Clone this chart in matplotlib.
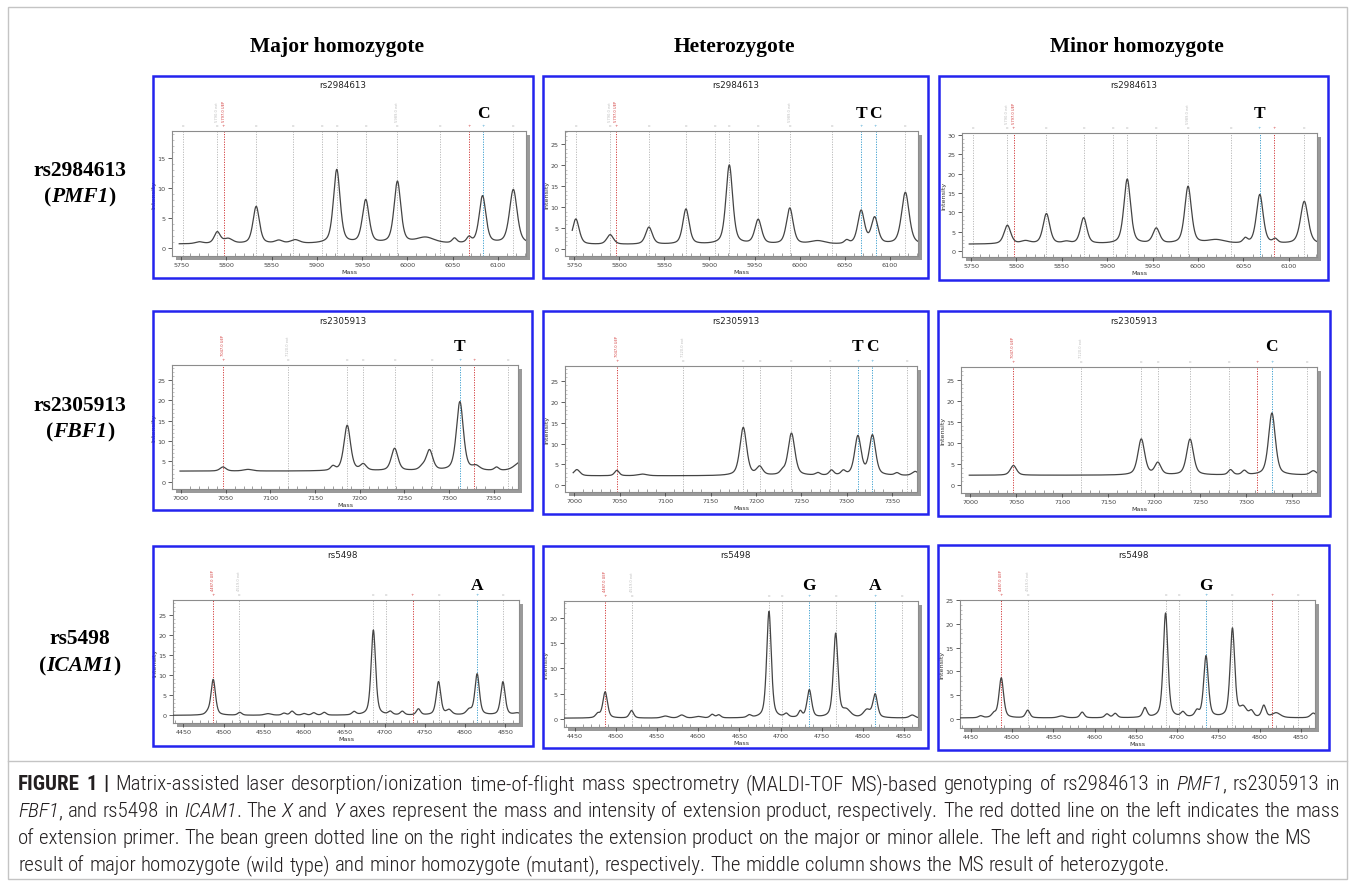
import re
import numpy as np
import matplotlib
matplotlib.use('Agg')
import matplotlib.pyplot as plt
from matplotlib.patches import Rectangle
from matplotlib.lines import Line2D
from matplotlib import font_manager

W, H = 1355, 887

# ---------------- data ----------------
columns = ['Major homozygote', 'Heterozygote', 'Minor homozygote']
snps = ['rs2984613', 'rs2305913', 'rs5498']
genes = ['PMF1', 'FBF1', 'ICAM1']

row_xlim = [(5748, 6131), (6999, 7377), (4437, 4867)]
row_xticks = [[5750, 5800, 5850, 5900, 5950, 6000, 6050, 6100],
              [7000, 7050, 7100, 7150, 7200, 7250, 7300, 7350],
              [4450, 4500, 4550, 4600, 4650, 4700, 4750, 4800, 4850]]
ylims = [[(-1.3, 19.5), (-1.6, 28.2), (-1.5, 30.5)],
         [(-1.8, 28.7), (-1.7, 28.7), (-1.8, 28.0)],
         [(-1.9, 28.7), (-1.65, 23.4), (-1.9, 25.0)]]
yticks = [[[0, 5, 10, 15], [0, 5, 10, 15, 20, 25], [0, 5, 10, 15, 20, 25, 30]],
          [[0, 5, 10, 15, 20, 25], [0, 5, 10, 15, 20, 25], [0, 5, 10, 15, 20, 25]],
          [[0, 5, 10, 15, 20, 25], [0, 5, 10, 15, 20], [0, 5, 10, 15, 20, 25]]]

primer_mass = [5797, 7047, 4487]
gray_lines = [[5752, 5790, 5833, 5874, 5906, 5922, 5954, 5989, 6036, 6117],
              [7120, 7186, 7204, 7239, 7281, 7366],
              [4519, 4686, 4702, 4767, 4847]]
allele_mass = [(6068, 6084), (7312, 7328), (4735, 4815)]
allele_names = [('T', 'C'), ('T', 'C'), ('G', 'A')]
called = [[(1,), (0, 1), (0,)],
          [(0,), (0, 1), (1,)],
          [(1,), (0, 1), (0,)]]
tall_labels = [[(5790, 'gray'), (5797, 'red'), (5989, 'gray')],
               [(7047, 'red'), (7120, 'gray')],
               [(4487, 'red'), (4519, 'gray')]]

# baseline level and peaks (mass, height above baseline, half width)
base = [[0.7, 1.1, 1.8], [2.6, 2.2, 2.4], [0.0, 0.1, 0.2]]
peaks = [
    [[(5770, 0.3, 5), (5790, 1.9, 4), (5802, 0.8, 6), (5833, 6.2, 4.2), (5858, 0.5, 5), (5876, 0.6, 6),
      (5922, 12.3, 4.4), (5954, 7.2, 4.4), (5989, 10.3, 4.4), (6020, 1.0, 12), (6052, 0.8, 3),
      (6068, 0.9, 3), (6083, 7.9, 4.4), (6117, 9.0, 5)],
     [(5752, 6.1, 4.4), (5790, 2.3, 4.4), (5833, 4.1, 4.4), (5874, 8.4, 4.2), (5922, 18.9, 4.4),
      (5954, 5.8, 4.4), (5989, 8.6, 4.4), (6020, 0.8, 10), (6052, 0.8, 3), (6068, 7.9, 4.4),
      (6083, 6.2, 4.4), (6117, 12.4, 5)],
     [(5790, 4.8, 4.4), (5810, 0.7, 6), (5833, 7.8, 4.4), (5855, 0.5, 5), (5874, 6.7, 4.2),
      (5922, 16.7, 4.4), (5954, 3.9, 4.4), (5989, 14.8, 4.4), (6020, 1.0, 12), (6052, 1.2, 3),
      (6068, 12.7, 4.4), (6085, 1.0, 3), (6117, 11.0, 5)]],
    [[(7047, 1.0, 4), (7075, 0.4, 6), (7170, 1.0, 3), (7186, 11.2, 4.4), (7204, 1.5, 4),
      (7239, 5.5, 4.4), (7270, 0.8, 4), (7278, 5.0, 4.4), (7312, 17.0, 4.6), (7330, 1.0, 5),
      (7353, 0.8, 3), (7380, 2.2, 8)],
     [(7003, 1.5, 4), (7047, 1.3, 3), (7075, 0.4, 6), (7186, 11.6, 4.4), (7204, 2.0, 4),
      (7229, 0.8, 3), (7239, 10.2, 4.4), (7268, 0.6, 3), (7283, 1.2, 3), (7296, 1.0, 3),
      (7312, 9.4, 4.2), (7328, 9.6, 4.2), (7355, 0.6, 3), (7375, 1.0, 4)],
     [(7047, 2.3, 4), (7186, 8.5, 4.4), (7204, 2.8, 4), (7239, 8.5, 4.4), (7283, 1.2, 3),
      (7298, 1.0, 3), (7328, 14.7, 4.4), (7373, 1.0, 4)]],
    [[(4480, 0.5, 3), (4487, 8.9, 3.3), (4520, 0.7, 3), (4555, 0.4, 5), (4575, 0.5, 3),
      (4585, 1.0, 3), (4600, 0.4, 3), (4612, 0.6, 3), (4625, 0.7, 3), (4662, 0.8, 3),
      (4686, 21.2, 3.3), (4707, 0.8, 3), (4722, 0.9, 3), (4742, 1.5, 3), (4767, 8.3, 3.3),
      (4780, 1.2, 4), (4805, 1.2, 4), (4815, 10.2, 3.3), (4847, 8.3, 3.3), (4865, 0.5, 5)],
     [(4478, 0.8, 3), (4487, 5.2, 3.3), (4519, 1.5, 3), (4560, 0.4, 5), (4580, 0.6, 4),
      (4600, 0.3, 5), (4617, 0.7, 3), (4625, 0.6, 3), (4662, 0.5, 3), (4686, 21.2, 3.3),
      (4707, 0.7, 3), (4724, 1.2, 2.5), (4735, 5.5, 3.3), (4767, 16.7, 3.3), (4780, 1.4, 6),
      (4805, 1.5, 5), (4815, 4.6, 3.3), (4860, 0.6, 4)],
     [(4462, 0.4, 3), (4478, 0.8, 3), (4487, 8.4, 3.3), (4519, 1.6, 3), (4560, 0.4, 5),
      (4585, 1.2, 3), (4615, 0.8, 3), (4625, 0.9, 3), (4661, 2.0, 3), (4686, 22.0, 3.3),
      (4707, 1.0, 3), (4724, 1.2, 3), (4735, 12.9, 3.3), (4767, 18.7, 3.3), (4780, 2.0, 5),
      (4790, 1.2, 3), (4805, 2.5, 3), (4820, 1.0, 6), (4865, 1.0, 4)]],
]

# ---------------- layout (pixels) ----------------
panel_box = [[(153, 77, 533, 279), (543, 77, 928, 279), (939, 77, 1328, 281)],
             [(153, 312, 532, 511), (543, 312, 928, 515), (938, 312, 1330, 517)],
             [(153, 547, 533, 747), (543, 547, 928, 749), (938, 546, 1329, 751)]]
axes_box = [[(172, 132, 526, 257), (565, 132, 918, 257), (962, 134, 1317, 258)],
            [(172, 366, 518, 490), (565, 367, 917, 493), (961, 368, 1317, 494)],
            [(173, 601, 519, 724), (564, 602, 918, 728), (960, 601, 1315, 729)]]
title_y = [86, 321, 555]
letter_y = [114, 347, 586]
header_x = [337, 734, 1137]
label_y = [(171, 197), (406, 432), (639, 666)]

avail = {f.name for f in font_manager.fontManager.ttflist}
serif = 'Liberation Serif' if 'Liberation Serif' in avail else 'DejaVu Serif'
cap_family = next((f for f in ['Liberation Sans Narrow', 'Roboto Condensed', 'Liberation Sans']
                   if f in avail), 'DejaVu Sans')

fig = plt.figure(figsize=(W / 100, H / 100), dpi=100)
fig.patch.set_facecolor('white')
renderer = fig.canvas.get_renderer()


def fx(x):
    return x / W


def fy(y):
    return 1 - y / H


def spectrum(x, b, pk):
    y = np.full_like(x, b)
    for m, h, w in pk:
        d = (x - m) / w
        y += h * (0.5 * np.exp(-np.log(2) * d ** 2) + 0.5 / (1 + d ** 2))
    return y


def run_line(x0, y, parts, size, family, color='black', center=False, target=None,
             light=False):
    sp_a = fig.text(0, 0, 'a a', fontsize=size, family=family)
    sp_b = fig.text(0, 0, 'aa', fontsize=size, family=family)
    sp = sp_a.get_window_extent(renderer).width - sp_b.get_window_extent(renderer).width
    sp_a.remove()
    sp_b.remove()
    items = []
    for txt, weight, style in parts:
        if light and weight == 'normal':
            weight = 'light'
        for tok in re.split(r'( )', txt):
            if tok == '':
                continue
            if tok == ' ':
                items.append(None)
            else:
                t = fig.text(0, fy(y), tok, fontsize=size, family=family, weight=weight,
                             style=style, color=color, va='center', ha='left')
                items.append((t, t.get_window_extent(renderer).width))
    n_sp = sum(1 for it in items if it is None)
    natural = sum(it[1] for it in items if it is not None) + n_sp * sp
    gap = sp
    if target is not None and n_sp:
        gap = sp + (target - natural) / n_sp
    width = natural if target is None else target
    x = x0 - (width / 2 if center else 0)
    texts = []
    for it in items:
        if it is None:
            x += gap
        else:
            it[0].set_x(fx(x))
            x += it[1]
            texts.append(it[0])
    return texts, natural


# outer frame and caption divider
fig.add_artist(Rectangle((fx(8), fy(880)), (1347 - 8) / W, (880 - 8) / H, transform=fig.transFigure,
                         fill=False, edgecolor='#c4c4c4', lw=1.0))
fig.add_artist(Line2D([fx(8), fx(1347)], [fy(762), fy(762)], transform=fig.transFigure,
                      color='#c4c4c4', lw=1.0))

# column headers
for c in range(3):
    fig.text(fx(header_x[c]), fy(47), columns[c], fontsize=15.5, family=serif, weight='bold',
             ha='center', va='center')

# row labels
for r in range(3):
    fig.text(fx(80), fy(label_y[r][0]), snps[r], fontsize=15.5, family=serif, weight='bold',
             ha='center', va='center')
    run_line(80, label_y[r][1], [('(', 'bold', 'normal'), (genes[r], 'bold', 'italic'),
                                  (')', 'bold', 'normal')], 15.5, serif, center=True)

red = '#d23b3b'
blue = '#3b9fcf'
gray = '#b9b9b9'

for r in range(3):
    for c in range(3):
        l, t, rr, b = panel_box[r][c]
        fig.add_artist(Rectangle((fx(l), fy(b)), (rr - l) / W, (b - t) / H, transform=fig.transFigure,
                                 fill=False, edgecolor='#2424ee', lw=1.8))
        fig.text(fx((l + rr) / 2), fy(title_y[r]), snps[r], fontsize=6.3, family='DejaVu Sans',
                 ha='center', va='center', color='#222222')

        al, at, ar, ab = axes_box[r][c]
        fig.add_artist(Rectangle((fx(al + 4), fy(ab + 4)), (ar - al) / W, (ab - at) / H,
                                 transform=fig.transFigure, facecolor='#9a9a9a', edgecolor='none',
                                 zorder=-1))
        ax = fig.add_axes([fx(al), fy(ab), (ar - al) / W, (ab - at) / H])
        ax.set_facecolor('white')
        x = np.linspace(row_xlim[r][0], row_xlim[r][1], 3000)
        ax.plot(x, spectrum(x, base[r][c], peaks[r][c]), color='#444444', lw=0.9, zorder=3)
        ax.set_xlim(*row_xlim[r])
        ax.set_ylim(*ylims[r][c])
        ax.set_xticks(row_xticks[r])
        ax.set_yticks(yticks[r][c])
        ax.set_xticks(np.arange(row_xticks[r][0] - 10, row_xlim[r][1], 10), minor=True)
        ax.set_yticks(np.arange(0, ylims[r][c][1], 1), minor=True)
        ax.tick_params(axis='both', which='major', labelsize=4.6, length=3, width=0.6,
                       colors='#444444', pad=1.5)
        ax.tick_params(axis='x', which='minor', direction='in', length=2.5, width=0.5,
                       colors='#777777')
        ax.tick_params(axis='y', which='minor', direction='in', length=1.5, width=0.4,
                       colors='#999999')
        for s in ax.spines.values():
            s.set_color('#8c8c8c')
            s.set_linewidth(0.8)
        ax.set_xlabel('Mass', fontsize=4.6, labelpad=1, color='#333333')
        ax.set_ylabel('Intensity', fontsize=4.6, labelpad=1, color='#333333')

        # assignment lines
        lines = [(m, gray) for m in gray_lines[r]] + [(primer_mass[r], red)]
        for k in range(2):
            lines.append((allele_mass[r][k], blue if k in called[r][c] else red))
        for m, col in lines:
            ax.axvline(m, ymin=0, ymax=1.0, color=col, ls=(0, (1.2, 1.4)), lw=0.7, zorder=2)
            ax.text(m, 1.045, 'o' if col == gray else '+', transform=ax.get_xaxis_transform(),
                    fontsize=3, color=col, ha='center', va='center')
        for m, kind in tall_labels[r]:
            col = red if kind == 'red' else '#bdbdbd'
            ax.text(m, 1.08, '%.1f UEP' % m if kind == 'red' else '%.1f ext' % m,
                    transform=ax.get_xaxis_transform(), rotation=90, fontsize=2.6, color=col,
                    ha='center', va='bottom', family='DejaVu Sans')

        for k in called[r][c]:
            ax.annotate(allele_names[r][k], xy=(allele_mass[r][k], H - letter_y[r]),
                        xycoords=('data', 'figure pixels'), ha='center', va='center',
                        fontsize=12.5, family=serif, weight='bold', annotation_clip=False)

# caption
cap_lines = [
    [('FIGURE 1 |', 'bold', 'normal'),
     (' Matrix-assisted laser desorption/ionization time-of-flight mass spectrometry (MALDI-TOF MS)-based genotyping of rs2984613 in ', 'normal', 'normal'),
     ('PMF1', 'normal', 'italic'), (', rs2305913 in', 'normal', 'normal')],
    [('FBF1', 'normal', 'italic'), (', and rs5498 in ', 'normal', 'normal'), ('ICAM1', 'normal', 'italic'),
     ('. The ', 'normal', 'normal'), ('X', 'normal', 'italic'), (' and ', 'normal', 'normal'),
     ('Y', 'normal', 'italic'),
     (' axes represent the mass and intensity of extension product, respectively. The red dotted line on the left indicates the mass', 'normal', 'normal')],
    [('of extension primer. The bean green dotted line on the right indicates the extension product on the major or minor allele. The left and right columns show the MS', 'normal', 'normal')],
    [('result of major homozygote (wild type) and minor homozygote (mutant), respectively. The middle column shows the MS result of heterozygote.', 'normal', 'normal')],
]
cap_y = [785, 812, 839, 866]
cap_target = [1322, 1322, 1293, None]

naturals = []
for parts in cap_lines[:3]:
    tt, wn = run_line(18, cap_y[0], parts, 10, cap_family, light=True)
    for t in tt:
        t.remove()
    naturals.append(wn)
cap_size = 10 * 1305 / np.mean(naturals)
for parts, yy, tg in zip(cap_lines, cap_y, cap_target):
    run_line(18, yy, parts, cap_size, cap_family, color='#231f20', target=tg, light=True)

fig.savefig('out.png', dpi=100)
